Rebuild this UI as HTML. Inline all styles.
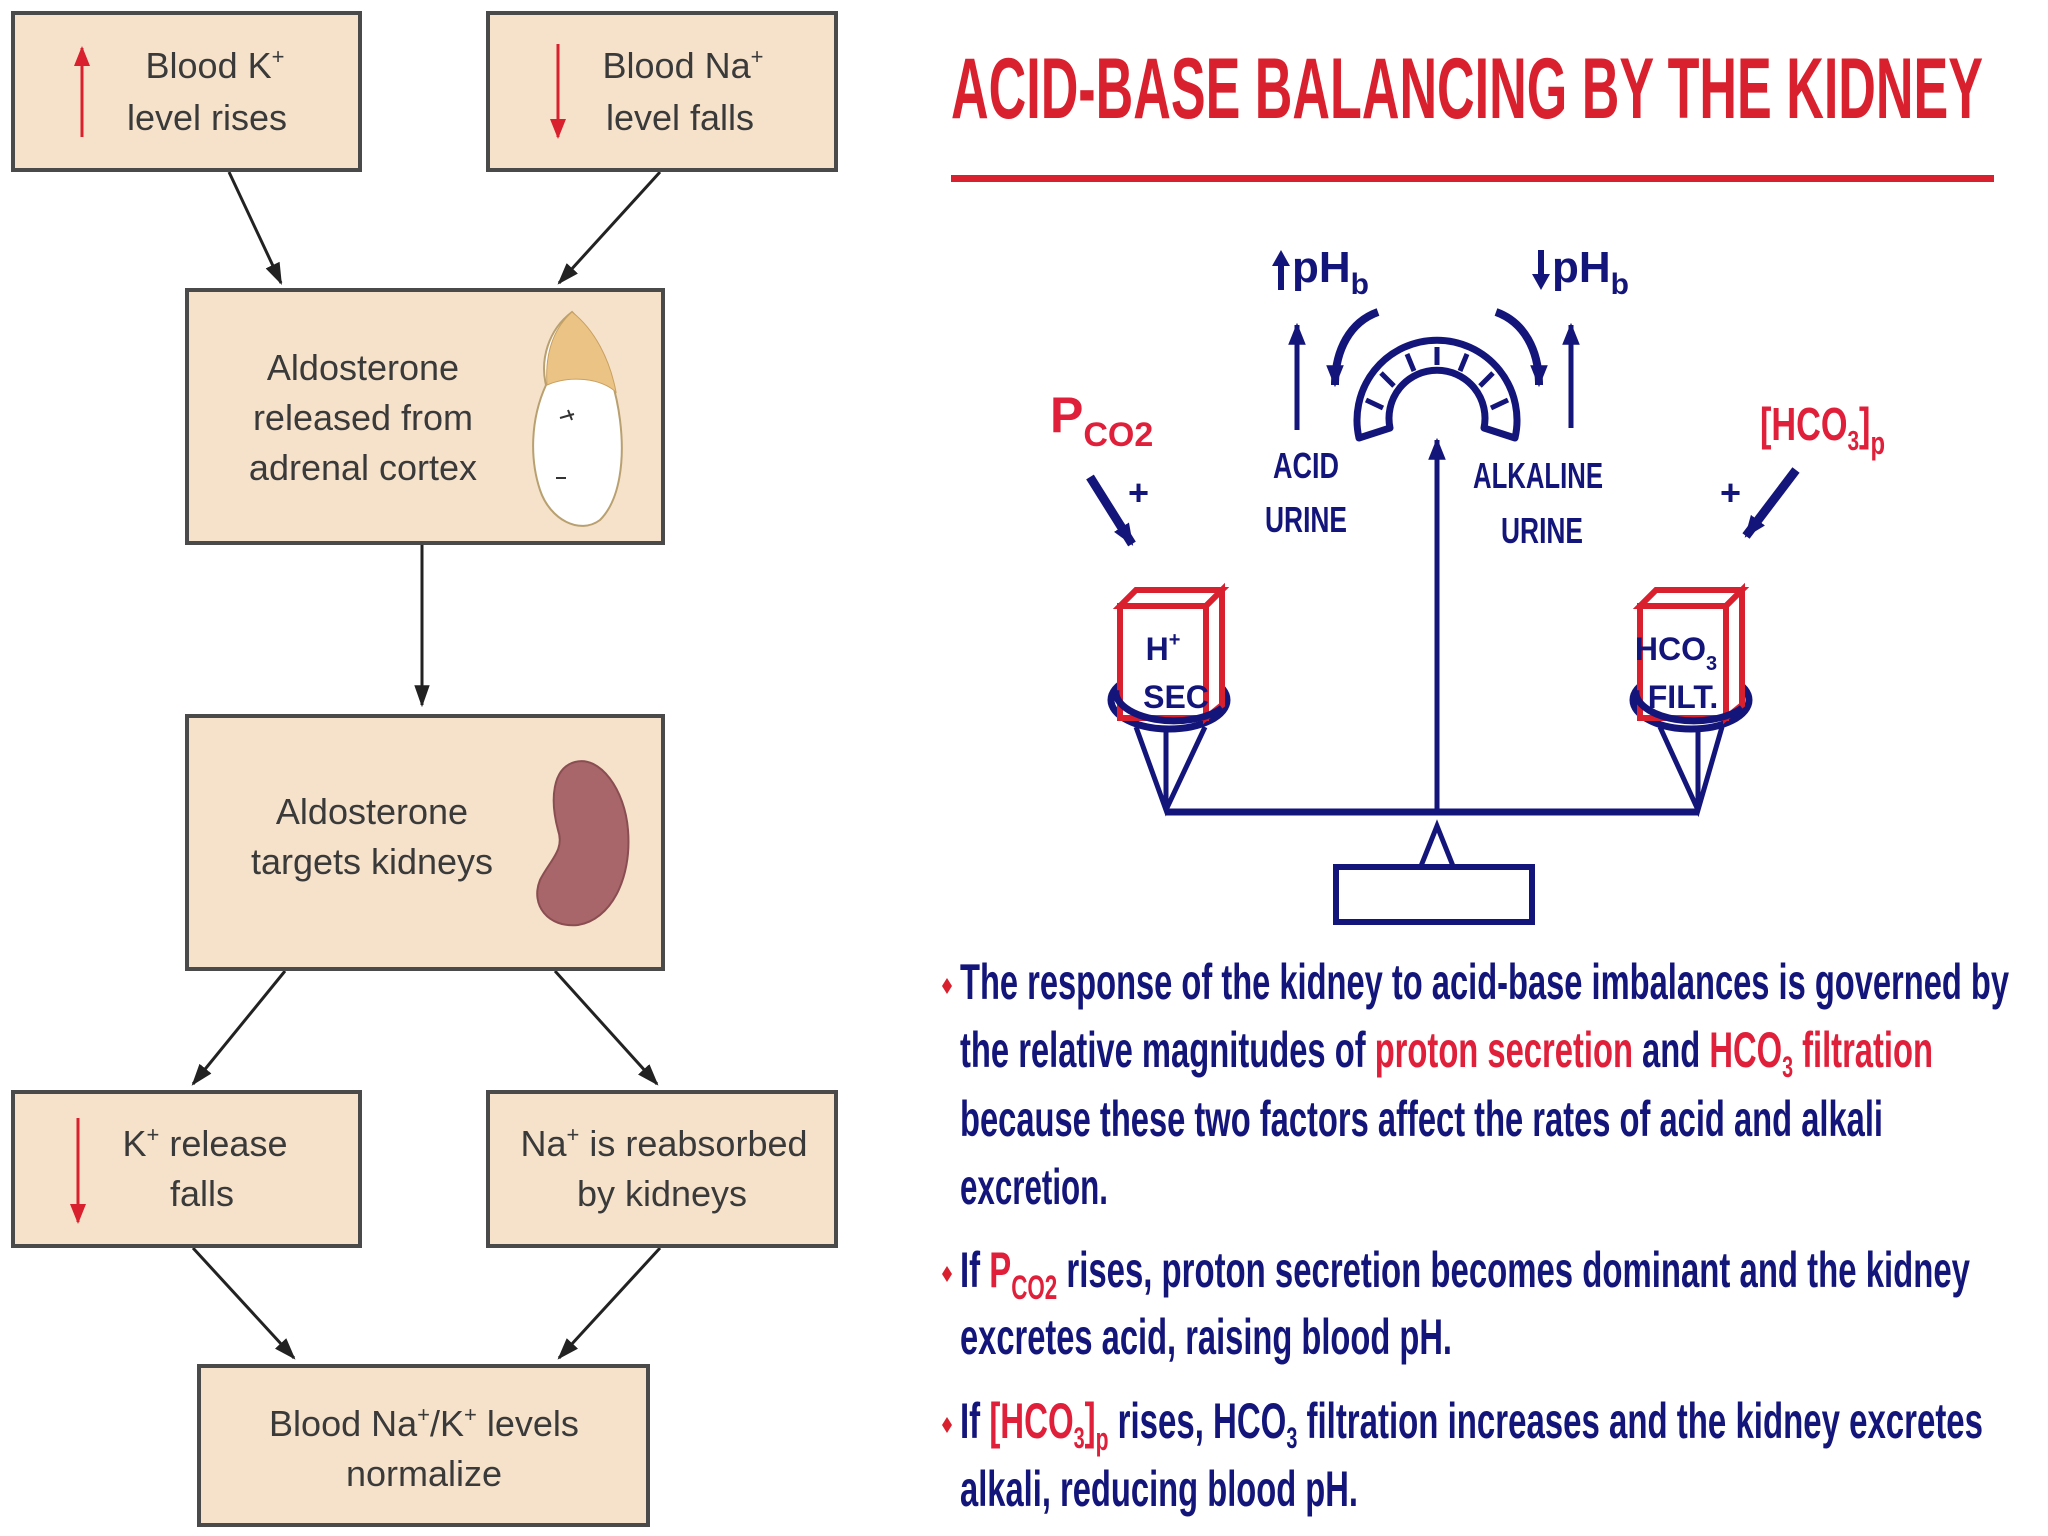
<!DOCTYPE html>
<html><head><meta charset="utf-8"><style>
html,body{margin:0;padding:0;background:#fff;}
svg{display:block;}
.bx{fill:#f6e2ca;stroke:#4a4a4a;stroke-width:4;}
.lt{font-family:"Liberation Sans",sans-serif;font-size:36px;fill:#3a3a3a;text-anchor:middle;}
.bt{font-family:"Liberation Sans",sans-serif;font-weight:bold;font-size:50px;fill:#14157a;}
.nv{font-family:"Liberation Sans",sans-serif;font-weight:bold;fill:#14157a;}
.rd{fill:#e0203a;}
</style></head><body>
<svg width="2048" height="1536" viewBox="0 0 2048 1536" xmlns="http://www.w3.org/2000/svg">
<defs>
<marker id="ab" viewBox="0 0 10 10" markerWidth="22" markerHeight="22" refX="9" refY="5" orient="auto" markerUnits="userSpaceOnUse"><path d="M0,1 L10,5 L0,9 Z" fill="#14157a"/></marker>
<marker id="ar" viewBox="0 0 10 10" markerWidth="20" markerHeight="20" refX="9" refY="5" orient="auto" markerUnits="userSpaceOnUse"><path d="M0,1 L10,5 L0,9 Z" fill="#d9202e"/></marker>
<marker id="ka" viewBox="0 0 10 10" markerWidth="22" markerHeight="22" refX="9" refY="5" orient="auto" markerUnits="userSpaceOnUse"><path d="M0,1.5 L10,5 L0,8.5 Z" fill="#222"/></marker>
</defs>

<g stroke="#222" stroke-width="3" fill="none">
<line x1="229" y1="172" x2="281" y2="283" marker-end="url(#ka)"/>
<line x1="660" y1="172" x2="559" y2="283" marker-end="url(#ka)"/>
<line x1="422" y1="545" x2="422" y2="705" marker-end="url(#ka)"/>
<line x1="285" y1="971" x2="193" y2="1084" marker-end="url(#ka)"/>
<line x1="555" y1="971" x2="657" y2="1084" marker-end="url(#ka)"/>
<line x1="193" y1="1248" x2="294" y2="1358" marker-end="url(#ka)"/>
<line x1="660" y1="1248" x2="559" y2="1358" marker-end="url(#ka)"/>
</g>
<rect class="bx" x="13" y="13" width="347" height="157"/>
<rect class="bx" x="488" y="13" width="348" height="157"/>
<rect class="bx" x="187" y="290" width="476" height="253"/>
<rect class="bx" x="187" y="716" width="476" height="253"/>
<rect class="bx" x="13" y="1092" width="347" height="154"/>
<rect class="bx" x="488" y="1092" width="348" height="154"/>
<rect class="bx" x="199" y="1366" width="449" height="159"/>

<line x1="82" y1="137" x2="82" y2="48" stroke="#d9202e" stroke-width="3" marker-end="url(#ar)"/>
<line x1="558" y1="44" x2="558" y2="137" stroke="#d9202e" stroke-width="3" marker-end="url(#ar)"/>
<line x1="78" y1="1118" x2="78" y2="1222" stroke="#d9202e" stroke-width="3" marker-end="url(#ar)"/>

<text class="lt" x="215" y="78">Blood K<tspan dy="-14" font-size="22">+</tspan></text>
<text class="lt" x="207" y="130">level rises</text>
<text class="lt" x="683" y="78">Blood Na<tspan dy="-14" font-size="22">+</tspan></text>
<text class="lt" x="680" y="130">level falls</text>
<text class="lt" x="363" y="380">Aldosterone</text>
<text class="lt" x="363" y="430">released from</text>
<text class="lt" x="363" y="480">adrenal cortex</text>
<path d="M572,312 C548,330 540,360 546,385 C530,420 530,460 540,490 C550,520 580,535 600,520 C620,500 625,460 620,420 C615,380 600,340 572,312 Z" fill="#fff" stroke="#b9a070" stroke-width="2"/>
<path d="M572,312 C552,330 545,355 547,385 C570,375 600,378 616,392 C610,360 595,330 572,312 Z" fill="#ebc485" stroke="#c9a060" stroke-width="1"/>
<path d="M560,418 l14,-4 m-6,-4 l4,10 M556,478 l10,0" stroke="#333" stroke-width="2"/>

<text class="lt" x="372" y="824">Aldosterone</text>
<text class="lt" x="372" y="874">targets kidneys</text>
<path d="M575,762 C600,755 625,790 628,830 C632,880 610,920 578,925 C548,928 530,905 540,880 C550,860 565,850 558,830 C550,800 552,768 575,762 Z" fill="#a8666a" stroke="#8a4e52" stroke-width="2"/>

<text class="lt" x="205" y="1156">K<tspan dy="-14" font-size="22">+</tspan><tspan dy="14"> release</tspan></text>
<text class="lt" x="202" y="1206">falls</text>
<text class="lt" x="664" y="1156">Na<tspan dy="-14" font-size="22">+</tspan><tspan dy="14"> is reabsorbed</tspan></text>
<text class="lt" x="662" y="1206">by kidneys</text>
<text class="lt" x="424" y="1436">Blood Na<tspan dy="-14" font-size="22">+</tspan><tspan dy="14">/K</tspan><tspan dy="-14" font-size="22">+</tspan><tspan dy="14"> levels</tspan></text>
<text class="lt" x="424" y="1486">normalize</text>

<text x="951" y="118" font-family="'Liberation Sans',sans-serif" font-weight="bold" font-size="86" fill="#d9202e" textLength="1032" lengthAdjust="spacingAndGlyphs">ACID-BASE BALANCING BY THE KIDNEY</text>
<rect x="951" y="175" width="1043" height="7" fill="#d9202e"/>

<g stroke="#14157a" fill="none" stroke-width="7">
<line x1="1166" y1="812" x2="1698" y2="812"/>
<rect x="1336" y="867" width="196" height="55" stroke-width="6"/>
<path d="M1421,866 L1437,826 L1453,866" stroke-width="5"/>
<line x1="1437" y1="812" x2="1437" y2="440" stroke-width="5" marker-end="url(#ab)"/>
<!-- gauge -->
<path d="M1359,438 A80,80 0 1 1 1515,438 L1484,428 A48,48 0 1 0 1390,428 Z" stroke-width="7" stroke-linejoin="round"/>
<g stroke-width="5">
<line x1="1366" y1="400" x2="1383" y2="408"/><line x1="1381" y1="373" x2="1394" y2="386"/><line x1="1407" y1="354" x2="1414" y2="371"/><line x1="1437" y1="347" x2="1437" y2="365"/><line x1="1467" y1="354" x2="1460" y2="371"/><line x1="1493" y1="373" x2="1480" y2="386"/><line x1="1508" y1="400" x2="1491" y2="408"/>
</g>
<path d="M1378,312 C1350,322 1335,350 1335,385" stroke-width="8" marker-end="url(#ab)"/>
<path d="M1496,312 C1524,322 1539,350 1539,385" stroke-width="8" marker-end="url(#ab)"/>
<line x1="1297" y1="430" x2="1297" y2="325" stroke-width="5" marker-end="url(#ab)"/>
<line x1="1571" y1="428" x2="1571" y2="325" stroke-width="5" marker-end="url(#ab)"/>
<ellipse cx="1169" cy="700" rx="58" ry="29" stroke-width="7"/>
<ellipse cx="1691" cy="700" rx="58" ry="29" stroke-width="7"/>
<path d="M1136,727 L1166,810 L1205,727 M1166,727 L1166,810" stroke-width="5"/>
<path d="M1660,727 L1698,810 L1722,727 M1698,727 L1698,810" stroke-width="5"/>
<line x1="1090" y1="477" x2="1132" y2="544" stroke-width="9" marker-end="url(#ab)"/>
<line x1="1796" y1="470" x2="1746" y2="536" stroke-width="9" marker-end="url(#ab)"/>
</g>
<!-- pH arrows -->
<g fill="#14157a" stroke="#14157a">
<line x1="1281" y1="290" x2="1281" y2="262" stroke-width="6"/>
<path d="M1272,266 L1281,250 L1290,266 Z" stroke="none"/>
<line x1="1541" y1="250" x2="1541" y2="278" stroke-width="6"/>
<path d="M1532,274 L1541,290 L1550,274 Z" stroke="none"/>
</g>
<g stroke="#d9202e" stroke-width="6" fill="#fff">
<path d="M1120,606 L1136,590 L1222,590 L1206,606 Z"/>
<path d="M1206,606 L1222,590 L1222,705 L1206,718 Z"/>
<rect x="1120" y="606" width="86" height="112"/>
<path d="M1640,606 L1656,590 L1742,590 L1726,606 Z"/>
<path d="M1726,606 L1742,590 L1742,705 L1726,718 Z"/>
<rect x="1640" y="606" width="86" height="112"/>
</g>
<path d="M1116,690 A58,29 0 0 0 1222,708" stroke="#14157a" stroke-width="7" fill="none"/>
<path d="M1636,690 A58,29 0 0 0 1742,708" stroke="#14157a" stroke-width="7" fill="none"/>
<text class="nv" x="1163" y="660" font-size="32" text-anchor="middle">H<tspan dy="-14" font-size="20">+</tspan></text>
<text class="nv" x="1176" y="708" font-size="32" text-anchor="middle">SEC</text>
<text class="nv" x="1676" y="660" font-size="32" text-anchor="middle">HCO<tspan dy="10" font-size="20">3</tspan></text>
<text class="nv" x="1683" y="708" font-size="32" text-anchor="middle">FILT.</text>

<text class="nv" x="1292" y="282" font-size="44">pH<tspan dy="12" font-size="30">b</tspan></text>
<text class="nv" x="1552" y="282" font-size="44">pH<tspan dy="12" font-size="30">b</tspan></text>
<text class="nv" x="1306" y="478" font-size="36" text-anchor="middle" textLength="66" lengthAdjust="spacingAndGlyphs">ACID</text>
<text class="nv" x="1306" y="532" font-size="36" text-anchor="middle" textLength="82" lengthAdjust="spacingAndGlyphs">URINE</text>
<text class="nv" x="1538" y="488" font-size="36" text-anchor="middle" textLength="130" lengthAdjust="spacingAndGlyphs">ALKALINE</text>
<text class="nv" x="1542" y="543" font-size="36" text-anchor="middle" textLength="82" lengthAdjust="spacingAndGlyphs">URINE</text>
<text class="nv" x="1128" y="505" font-size="36">+</text>
<text class="nv" x="1720" y="505" font-size="36">+</text>
<text class="rd" font-family="'Liberation Sans',sans-serif" font-weight="bold" x="1050" y="432" font-size="50">P<tspan dy="14" font-size="34">CO2</tspan></text>
<text class="rd" font-family="'Liberation Sans',sans-serif" font-weight="bold" x="1760" y="440" font-size="46" textLength="125" lengthAdjust="spacingAndGlyphs">[HCO<tspan dy="10" font-size="28">3</tspan><tspan dy="-10">]</tspan><tspan dy="14" font-size="32">p</tspan></text>

<g fill="#d9202e">
<path d="M947,978 l5,8 l-5,8 l-5,-8 Z"/>
<path d="M947,1266 l5,8 l-5,8 l-5,-8 Z"/>
<path d="M947,1417 l5,8 l-5,8 l-5,-8 Z"/>
</g>
<text class="bt" x="960" y="999" textLength="1049" lengthAdjust="spacingAndGlyphs">The response of the kidney to acid-base imbalances is governed by</text>
<text class="bt" x="960" y="1067" textLength="973" lengthAdjust="spacingAndGlyphs">the relative magnitudes of <tspan class="rd">proton secretion</tspan> and <tspan class="rd">HCO<tspan dy="10" font-size="30">3</tspan><tspan dy="-10"> filtration</tspan></tspan></text>
<text class="bt" x="960" y="1136" textLength="923" lengthAdjust="spacingAndGlyphs">because these two factors affect the rates of acid and alkali</text>
<text class="bt" x="960" y="1204" textLength="148" lengthAdjust="spacingAndGlyphs">excretion.</text>
<text class="bt" x="960" y="1287" textLength="1010" lengthAdjust="spacingAndGlyphs">If <tspan class="rd">P<tspan dy="12" font-size="34">CO2</tspan></tspan><tspan dy="-12"> rises, proton secretion becomes dominant and the kidney</tspan></text>
<text class="bt" x="960" y="1354" textLength="492" lengthAdjust="spacingAndGlyphs">excretes acid, raising blood pH.</text>
<text class="bt" x="960" y="1438" textLength="1023" lengthAdjust="spacingAndGlyphs">If <tspan class="rd">[HCO<tspan dy="10" font-size="30">3</tspan><tspan dy="-10">]</tspan><tspan dy="12" font-size="32">p</tspan></tspan><tspan dy="-12"> rises, HCO</tspan><tspan dy="10" font-size="30">3</tspan><tspan dy="-10"> filtration increases and the kidney excretes</tspan></text>
<text class="bt" x="960" y="1506" textLength="398" lengthAdjust="spacingAndGlyphs">alkali, reducing blood pH.</text>
</svg>
</body></html>
